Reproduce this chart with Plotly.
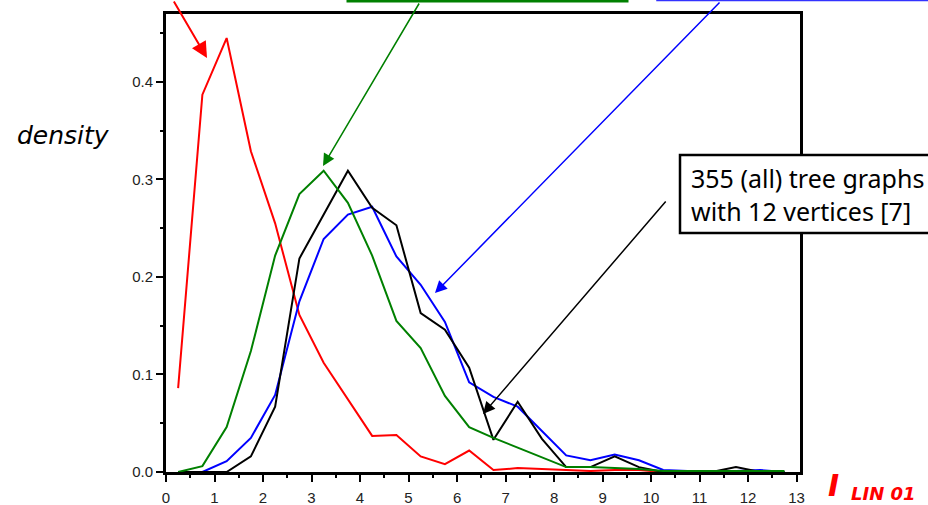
import plotly.graph_objects as go

# ---- data ----
x_centers = [0.25, 0.75, 1.25, 1.75, 2.25, 2.75, 3.25, 3.75, 4.25, 4.75, 5.25, 5.75, 6.25,
             6.75, 7.25, 7.75, 8.25, 8.75, 9.25, 9.75, 10.25, 10.75, 11.25, 11.75, 12.25, 12.75]
red_vals = [0.086, 0.387, 0.445, 0.329, 0.255, 0.161, 0.112, 0.075, 0.037, 0.038, 0.016, 0.008, 0.022,
            0.002, 0.004, 0.003, 0.002, 0.001, 0.002, 0.002, 0.0, 0.0, 0.0, 0.0, 0.0, 0.0]
green_vals = [0.0, 0.006, 0.046, 0.124, 0.222, 0.285, 0.309, 0.276, 0.222, 0.155, 0.127, 0.078, 0.046,
              0.035, 0.025, 0.015, 0.005, 0.005, 0.004, 0.003, 0.001, 0.001, 0.001, 0.001, 0.001, 0.001]
black_vals = [0.0, 0.0, 0.0, 0.016, 0.067, 0.219, 0.264, 0.309, 0.271, 0.253, 0.163, 0.146, 0.107,
              0.033, 0.072, 0.034, 0.005, 0.005, 0.016, 0.005, 0.0, 0.0, 0.0, 0.005, 0.0, 0.0]
blue_vals = [0.0, 0.0, 0.011, 0.035, 0.079, 0.175, 0.239, 0.264, 0.272, 0.221, 0.192, 0.154, 0.092,
             0.077, 0.067, 0.042, 0.017, 0.012, 0.018, 0.012, 0.002, 0.001, 0.001, 0.001, 0.002, 0.0]
x_ticks = [0, 1, 2, 3, 4, 5, 6, 7, 8, 9, 10, 11, 12, 13]
y_ticks = [0.0, 0.1, 0.2, 0.3, 0.4]

# ---- layout geometry (pixels) ----
W, H = 928, 505
L, R, T, B = 166, 128, 14, 33
PW, PH = W - L - R, H - T - B


def px(xp, yp):
    return (xp - L) / PW, (H - B - yp) / PH


fig = go.Figure()
for vals, col in [(red_vals, "#ff0000"), (blue_vals, "#0000ff"), (black_vals, "#000000"), (green_vals, "#008000")]:
    fig.add_trace(go.Scatter(x=x_centers, y=vals, mode="lines",
                             line=dict(color=col, width=2), showlegend=False, hoverinfo="skip"))

axis_common = dict(showgrid=False, zeroline=False, showline=True, linecolor="black", linewidth=3,
                   mirror=True, ticks="outside", ticklen=7, tickwidth=2, tickcolor="black",
                   automargin=False,
                   tickfont=dict(family="Liberation Sans, Arial", size=15, color="#222"))
fig.update_xaxes(range=[0, 13.07], tickvals=x_ticks, ticklabelstandoff=3,
                 minor=dict(dtick=0.5, ticks="outside", ticklen=3, tickwidth=2, tickcolor="black"),
                 **axis_common)
fig.update_yaxes(range=[0, 0.4697], tickvals=y_ticks, tickformat=".1f",
                 minor=dict(dtick=0.05, ticks="outside", ticklen=3, tickwidth=2, tickcolor="black"),
                 **axis_common)

annotations = []


def arrow(tail, head, color, width=1.5):
    hx, hy = px(*head)
    annotations.append(dict(xref="paper", yref="paper", x=hx, y=hy, ax=tail[0] - head[0], ay=tail[1] - head[1],
                            axref="pixel", ayref="pixel", text="", showarrow=True, arrowhead=2,
                            arrowsize=1.6, arrowwidth=width, arrowcolor=color, standoff=0, startstandoff=0))


arrow((173, -20), (207, 58), "#ff0000", 2)
arrow((420, 2), (323, 166), "#008000", 1.5)
arrow((721, 1), (435, 293), "#0000ff", 1.5)
arrow((667, 200), (483, 414), "#000000", 1.5)

tx, ty = px(689, 194)
annotations.append(dict(xref="paper", yref="paper", x=tx, y=ty, xanchor="left", yanchor="middle",
                        text="355 (all) tree graphs<br>with 12 vertices [7]", align="left", showarrow=False,
                        font=dict(family="Noto Sans", size=25, color="black")))

dx, dy = px(63, 135)
annotations.append(dict(xref="paper", yref="paper", x=dx, y=dy, xanchor="center", yanchor="middle",
                        text="<i>density</i>", showarrow=False,
                        font=dict(family="DejaVu Sans", size=25, color="black")))

ix, iy = px(826, 485)
annotations.append(dict(xref="paper", yref="paper", x=ix, y=iy, xanchor="left", yanchor="middle",
                        text="<b><i>I</i></b>", showarrow=False,
                        font=dict(family="DejaVu Sans", size=30, color="#ff0000")))
lx, ly = px(849, 493)
annotations.append(dict(xref="paper", yref="paper", x=lx, y=ly, xanchor="left", yanchor="middle",
                        text="<b><i>LIN 01</i></b>", showarrow=False,
                        font=dict(family="DejaVu Sans", size=18, color="#ff0000")))

g0x, g0y = px(348, -40)
g1x, g1y = px(627, 1)
b0x, b0y = px(657, -40)
b1x, b1y = px(940, 0.5)
k0x, k0y = px(680, 155)
k1x, k1y = px(945, 233)
shapes = [
    dict(type="rect", xref="paper", yref="paper", x0=g0x, y0=g0y, x1=g1x, y1=g1y,
         line=dict(color="#008000", width=3), fillcolor="white", layer="above"),
    dict(type="rect", xref="paper", yref="paper", x0=b0x, y0=b0y, x1=b1x, y1=b1y,
         line=dict(color="#3333ff", width=1.5), fillcolor="white", layer="above"),
    dict(type="rect", xref="paper", yref="paper", x0=k0x, y0=k0y, x1=k1x, y1=k1y,
         line=dict(color="black", width=2.5), fillcolor="white", layer="above"),
]

fig.update_layout(width=W, height=H, margin=dict(l=L, r=R, t=T, b=B),
                  paper_bgcolor="white", plot_bgcolor="white",
                  annotations=annotations, shapes=shapes)

fig.write_html("out.html")
